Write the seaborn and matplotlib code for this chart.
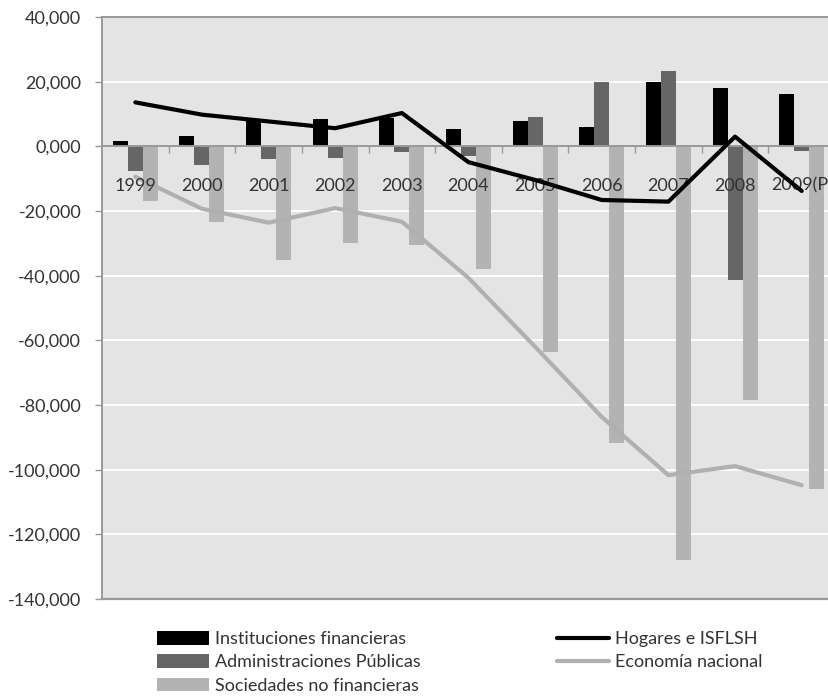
import matplotlib
matplotlib.use("Agg")
import matplotlib.pyplot as plt
import matplotlib.ticker as mticker
from matplotlib.patches import Patch
from matplotlib.lines import Line2D
import numpy as np
import pandas as pd
import seaborn as sns

# Data
years = ["1999", "2000", "2001", "2002", "2003", "2004", "2005", "2006", "2007", "2008", "2009(P)"]
instituciones = [1.5, 3.3, 8.6, 8.4, 8.7, 5.4, 7.8, 6.0, 19.9, 18.1, 16.3]
administraciones = [-7.5, -5.9, -4.0, -3.5, -1.8, -2.9, 9.0, 19.9, 23.4, -41.3, -1.3]
sociedades = [-16.8, -23.3, -35.1, -30.0, -30.5, -38.0, -63.7, -91.7, -128.0, -78.5, -106.1]
hogares = [13.6, 9.8, 7.7, 5.6, 10.3, -4.9, -10.4, -16.6, -17.1, 3.0, -13.8]
economia = [-9.4, -19.3, -23.6, -19.1, -23.3, -40.7, -62.0, -83.7, -101.7, -98.9, -104.8]

bar_labels = ["Instituciones financieras", "Administraciones Públicas", "Sociedades no financieras"]
line_labels = ["Hogares e ISFLSH", "Economía nacional"]
bar_colors = ["#000000", "#666666", "#b3b3b3"]
line_colors = ["#000000", "#b0b0b0"]

sns.set_style("white")
plt.rcParams["font.family"] = ["Lato", "DejaVu Sans"]

df = pd.DataFrame({
    "year": years * 3,
    "serie": [bar_labels[0]] * len(years) + [bar_labels[1]] * len(years) + [bar_labels[2]] * len(years),
    "valor": instituciones + administraciones + sociedades,
})

fig = plt.figure(figsize=(8.29, 6.97), dpi=100)
ax = fig.add_axes([102 / 829, 1 - 599 / 697, 733 / 829, 582 / 697])
ax.set_facecolor("#e4e4e4")

sns.barplot(data=df, x="year", y="valor", hue="serie", hue_order=bar_labels,
            palette=bar_colors, width=0.675, saturation=1, errorbar=None,
            linewidth=0, legend=False, ax=ax, zorder=1)

xpos = np.arange(len(years))
sns.lineplot(x=xpos, y=economia, color=line_colors[1], lw=3, ax=ax, zorder=2)
sns.lineplot(x=xpos, y=hogares, color=line_colors[0], lw=3, ax=ax, zorder=4)

# axis (ticks, labels, zero line) above the bars, gridlines drawn below
ax.set_axisbelow(False)
ax.set_xlim(-0.5, len(years) - 0.5)
ax.set_ylim(-140, 40)
yticks = np.arange(-140, 41, 20)
ax.set_yticks(yticks)
for v in yticks:
    ax.axhline(v, color="white", lw=1.3, zorder=0.5)
ax.axhline(-140, color="#999999", lw=1.6, zorder=2, clip_on=False)

ax.yaxis.set_major_formatter(mticker.FuncFormatter(lambda v, p: f"{v:.3f}".replace(".", ",")))
ax.set_xticks(xpos)
ax.set_xticklabels(years)
ax.set_xticks(xpos[:-1] + 0.5, minor=True)
ax.set_xlabel("")
ax.set_ylabel("")

ax.tick_params(axis="y", direction="out", length=5, width=1, color="#999999",
               labelsize=13, labelcolor="#333333", pad=10, left=True)
ax.tick_params(axis="x", which="major", length=0, labelsize=13, labelcolor="#333333", pad=22.5)
ax.tick_params(axis="x", which="minor", direction="out", length=5, width=1, color="#999999", bottom=True)

ax.spines["bottom"].set_position(("data", 0))
for s in ["left", "top", "bottom"]:
    ax.spines[s].set_color("#999999")
    ax.spines[s].set_linewidth(1.4)
ax.spines["right"].set_visible(False)

bar_handles = [Patch(facecolor=c, edgecolor="none") for c in bar_colors]
line_handles = [Line2D([], [], color=c, lw=3) for c in line_colors]
common = dict(loc="upper left", frameon=False, fontsize=13, handlelength=2.9,
              handleheight=0.78, handletextpad=0.3, labelspacing=0.4,
              borderpad=0, borderaxespad=0, labelcolor="#333333")
fig.legend(bar_handles, bar_labels, bbox_to_anchor=(157 / 829, 1 - 631 / 697), **common)
fig.legend(line_handles, line_labels, bbox_to_anchor=(557 / 829, 1 - 631 / 697), **common)

fig.savefig("out.png", dpi=100)
